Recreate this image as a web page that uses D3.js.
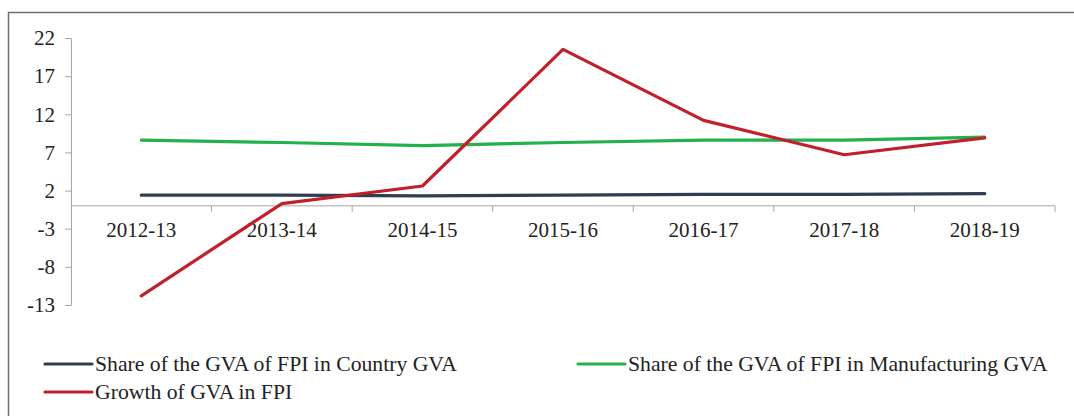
<!DOCTYPE html>
<html>
<head>
<meta charset="utf-8">
<script src="https://cdn.jsdelivr.net/npm/d3@7"></script>
<style>
  body { margin: 0; background: #fff; }
  svg text { font-family: "Liberation Serif", "Times New Roman", serif !important; }
</style>
</head>
<body>
<svg id="chart"></svg>
<script>
// chart data
const years = ["2012-13", "2013-14", "2014-15", "2015-16", "2016-17", "2017-18", "2018-19"];
const countryShare = [1.4, 1.4, 1.3, 1.4, 1.5, 1.5, 1.6];
const manufShare = [8.6, 8.3, 7.9, 8.3, 8.6, 8.6, 9.0];
const gvaGrowth = [-11.8, 0.3, 2.6, 20.5, 11.2, 6.7, 8.9];
const yTicks = [22, 17, 12, 7, 2, -3, -8, -13];
const seriesNames = [
    "Share of the GVA of FPI in Country GVA",
    "Share of the GVA of FPI in Manufacturing GVA",
    "Growth of GVA in FPI"
];
const seriesColors = ["#313d50", "#22b14c", "#c1202b"];

const W = 1074, H = 416;
const svg = d3.select("#chart").attr("width", W).attr("height", H);

// outer frame (only top and left edges are visible in the source)
svg.append("path")
    .attr("d", `M8.5,${H}V12.5H${W}`)
    .attr("fill", "none")
    .attr("stroke", "#6e6e6e")
    .attr("stroke-width", 1.5);

const x = d3.scaleBand().domain(years).range([71, 1055]);
const y = d3.scaleLinear().domain([-13, 22]).range([305, 38]);

// y axis
const yAxis = svg.append("g")
    .attr("transform", "translate(71,0)")
    .call(d3.axisLeft(y).tickValues(yTicks).tickFormat(d => String(d))
        .tickSize(6).tickSizeOuter(0).tickPadding(10));
yAxis.select(".domain").attr("stroke", "#a6a6a6");
yAxis.selectAll(".tick line").attr("stroke", "#a6a6a6");
yAxis.selectAll("text")
    .attr("fill", "#222")
    .style("font-size", "21px");

// x axis at zero, ticks between categories
const xAxis = svg.append("g")
    .attr("transform", `translate(0,${y(0)})`);
xAxis.append("line")
    .attr("x1", x.range()[0]).attr("x2", x.range()[1])
    .attr("stroke", "#a6a6a6");
xAxis.selectAll(".sep")
    .data(years)
    .enter()
    .append("line")
    .attr("x1", d => x(d) + x.bandwidth())
    .attr("x2", d => x(d) + x.bandwidth())
    .attr("y1", 0).attr("y2", 6)
    .attr("stroke", "#a6a6a6");
xAxis.selectAll(".lbl")
    .data(years)
    .enter()
    .append("text")
    .attr("x", d => x(d) + x.bandwidth() / 2)
    .attr("y", 31)
    .attr("text-anchor", "middle")
    .attr("fill", "#222")
    .style("font-size", "21px")
    .text(d => d);

// lines
const allSeries = [countryShare, manufShare, gvaGrowth];
const line = d3.line()
    .x((d, i) => x(years[i]) + x.bandwidth() / 2)
    .y(d => y(d));

allSeries.forEach((vals, k) => {
    svg.append("path")
        .datum(vals)
        .attr("d", line)
        .attr("fill", "none")
        .attr("stroke", seriesColors[k])
        .attr("stroke-width", 3.2)
        .attr("stroke-linejoin", "round")
        .attr("stroke-linecap", "round");
});

// legend
const legendPos = [[45, 364], [578, 364], [45, 392]];
seriesNames.forEach((name, k) => {
    const g = svg.append("g")
        .attr("transform", `translate(${legendPos[k][0]},${legendPos[k][1]})`);
    g.append("line")
        .attr("x1", 0).attr("x2", 47)
        .attr("stroke", seriesColors[k])
        .attr("stroke-width", 3.2)
        .attr("stroke-linecap", "round");
    g.append("text")
        .attr("x", 50)
        .attr("y", 7)
        .attr("fill", "#222")
        .style("font-size", "21.7px")
        .text(name);
});
</script>
</body>
</html>
